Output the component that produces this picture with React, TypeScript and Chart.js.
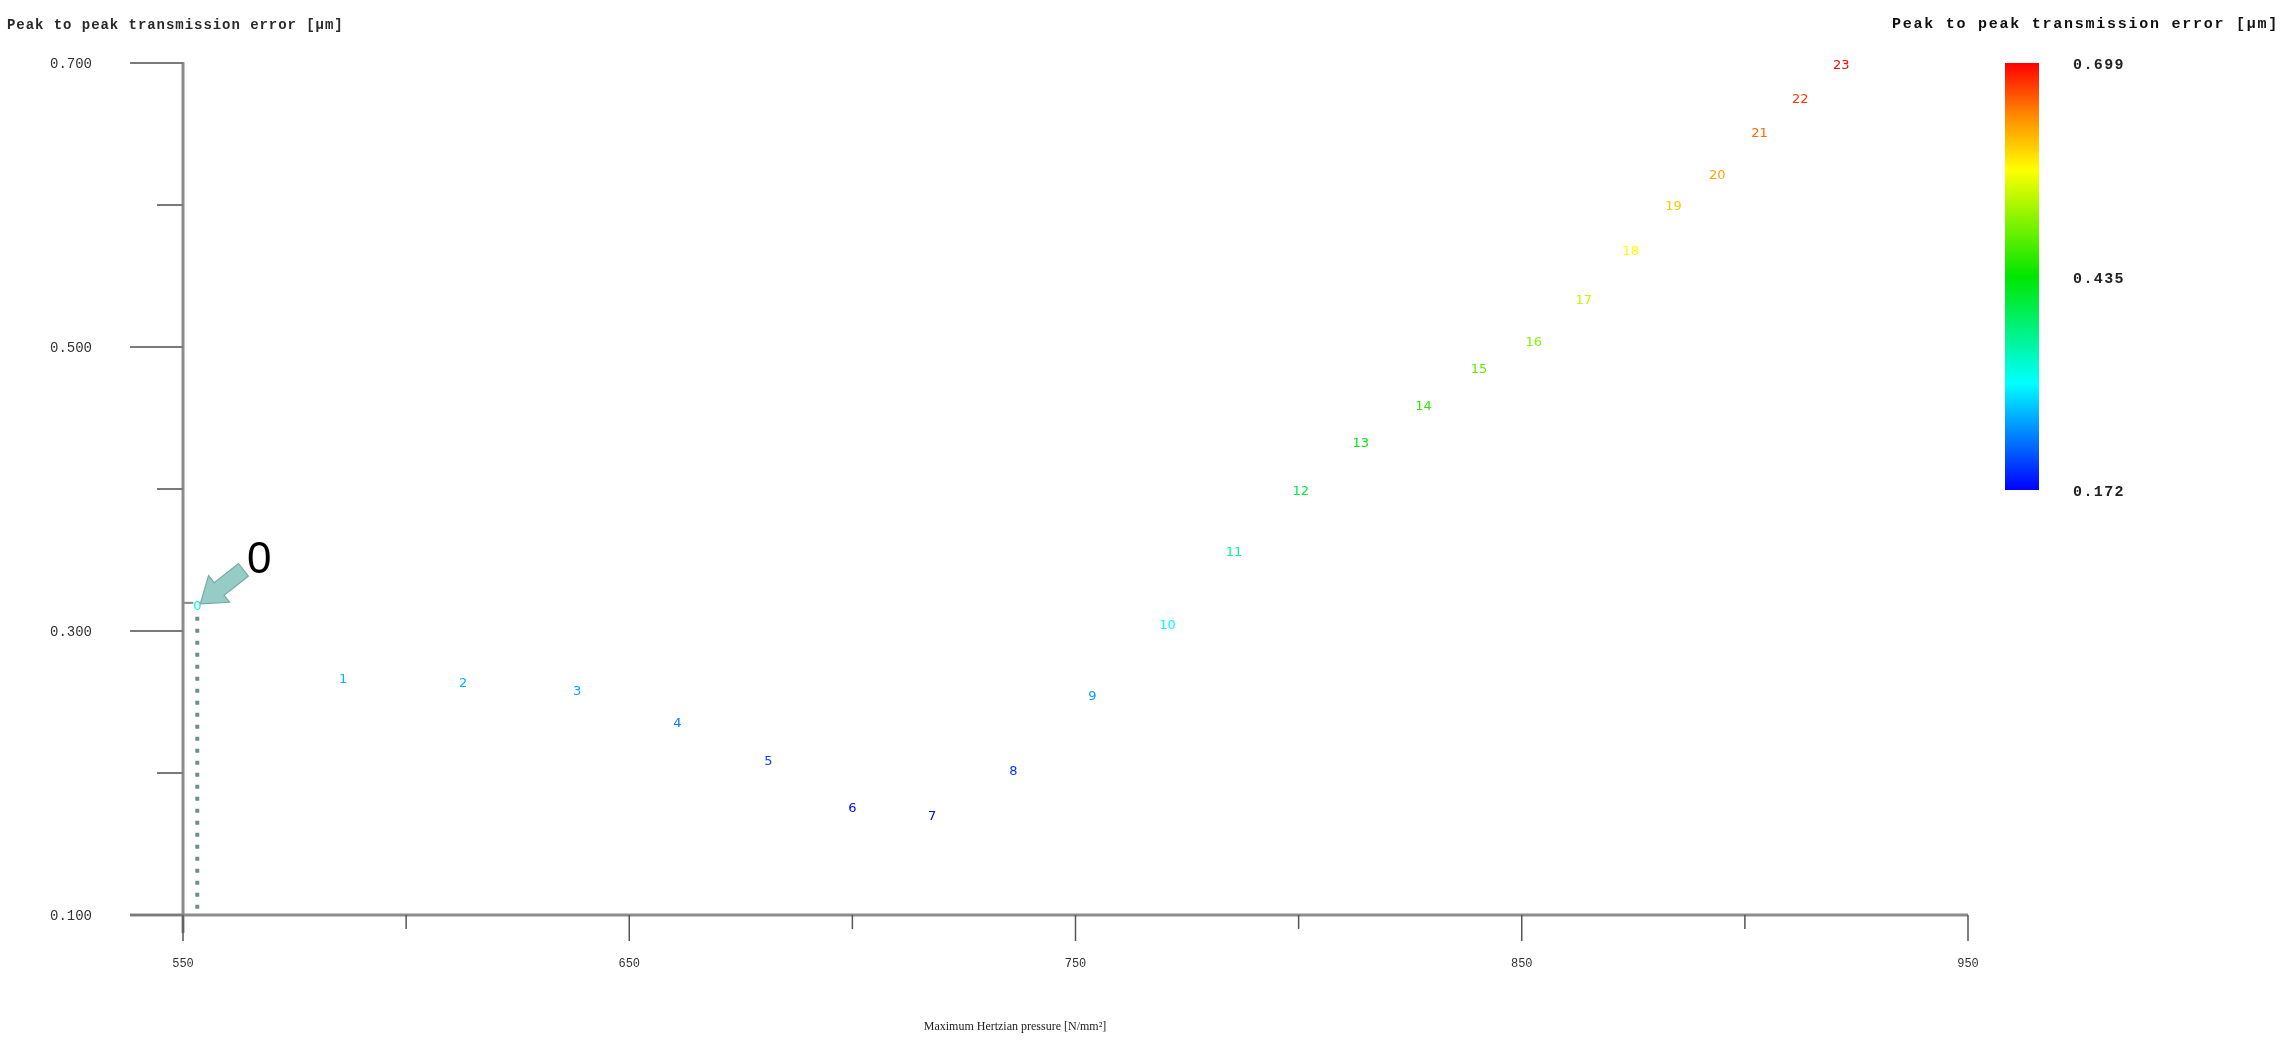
import React, { useEffect, useRef } from "react";
import { Chart, registerables } from "chart.js";

Chart.register(...registerables);

// ---- data ----
const pointIds = ["0", "1", "2", "3", "4", "5", "6", "7", "8", "9", "10", "11", "12", "13", "14", "15", "16", "17", "18", "19", "20", "21", "22", "23"];
const pressure = [553.2, 585.9, 612.8, 638.3, 660.8, 681.2, 700.0, 717.9, 736.1, 753.8, 770.6, 785.5, 800.5, 813.9, 828.0, 840.4, 852.7, 863.9, 874.4, 884.0, 893.8, 903.3, 912.4, 921.6];
const pte = [0.317, 0.266, 0.263, 0.257, 0.235, 0.208, 0.175, 0.169, 0.201, 0.254, 0.304, 0.355, 0.398, 0.432, 0.458, 0.484, 0.503, 0.533, 0.567, 0.599, 0.621, 0.650, 0.674, 0.698];
const xMajorTicks = [550, 650, 750, 850, 950];
const xMinorTicks = [600, 700, 800, 900];
const yMajorTicks = [0.1, 0.3, 0.5, 0.7];
const yMinorTicks = [0.2, 0.4, 0.6];
const colorbarTicks = [0.699, 0.435, 0.172];
const colorMin = 0.172;
const colorMax = 0.699;
const yTitle = "Peak to peak transmission error [µm]";
const colorbarTitle = "Peak to peak transmission error [µm]";
const xTitle = "Maximum Hertzian pressure [N/mm²]";
const calloutText = "0";

const stops: [number, [number, number, number]][] = [
  [0, [0, 0, 255]],
  [0.25, [0, 255, 255]],
  [0.5, [0, 230, 0]],
  [0.75, [255, 255, 0]],
  [0.875, [255, 140, 0]],
  [1, [255, 0, 0]],
];

function colorFor(v: number): string {
  let t = (v - colorMin) / (colorMax - colorMin);
  t = Math.max(0, Math.min(1, t));
  for (let i = 0; i < stops.length - 1; i++) {
    const [a, ca] = stops[i];
    const [b, cb] = stops[i + 1];
    if (t >= a && t <= b) {
      const f = (t - a) / (b - a);
      const c = ca.map((x, k) => Math.round(x + (cb[k] - x) * f));
      return `rgb(${c[0]},${c[1]},${c[2]})`;
    }
  }
  return "rgb(255,0,0)";
}

const decorPlugin = {
  id: "decor",
  beforeDraw(chart: any) {
    const ctx = chart.ctx;
    ctx.save();
    ctx.fillStyle = "#ffffff";
    ctx.fillRect(0, 0, chart.width, chart.height);
    ctx.restore();
  },
  afterDraw(chart: any) {
    const ctx: CanvasRenderingContext2D = chart.ctx;
    const xs = chart.scales.x;
    const ys = chart.scales.y;
    const ca = chart.chartArea;
    ctx.save();

    // point 0 guide lines
    const meta = chart.getDatasetMeta(0);
    const p0 = meta.data[0];
    ctx.strokeStyle = "#6f8f8d";
    ctx.lineWidth = 4;
    ctx.setLineDash([4, 8]);
    ctx.beginPath();
    ctx.moveTo(p0.x, p0.y + 10);
    ctx.lineTo(p0.x, ca.bottom - 2);
    ctx.stroke();
    ctx.setLineDash([]);
    ctx.strokeStyle = "#8a8a8a";
    ctx.lineWidth = 2;
    ctx.beginPath();
    ctx.moveTo(ca.left, p0.y - 4);
    ctx.lineTo(p0.x - 4, p0.y - 4);
    ctx.stroke();

    // axes
    ctx.strokeStyle = "#8c8c8c";
    ctx.lineWidth = 3;
    ctx.beginPath();
    ctx.moveTo(ca.left, ys.getPixelForValue(0.7) - 1);
    ctx.lineTo(ca.left, ca.bottom + 18);
    ctx.stroke();
    ctx.beginPath();
    ctx.moveTo(ca.left - 53, ca.bottom);
    ctx.lineTo(ca.right, ca.bottom);
    ctx.stroke();

    // y ticks
    ctx.strokeStyle = "#7a7a7a";
    ctx.lineWidth = 2;
    for (const v of yMajorTicks) {
      const y = ys.getPixelForValue(v);
      ctx.beginPath();
      ctx.moveTo(ca.left - 53, y);
      ctx.lineTo(ca.left, y);
      ctx.stroke();
    }
    for (const v of yMinorTicks) {
      const y = ys.getPixelForValue(v);
      ctx.beginPath();
      ctx.moveTo(ca.left - 26, y);
      ctx.lineTo(ca.left, y);
      ctx.stroke();
    }
    ctx.fillStyle = "#333333";
    ctx.font = "14px 'Liberation Mono'";
    ctx.textAlign = "right";
    ctx.textBaseline = "middle";
    for (const v of yMajorTicks) {
      const y = ys.getPixelForValue(v);
      ctx.fillText(v.toFixed(3), ca.left - 91, y + 1);
    }

    // x ticks
    ctx.strokeStyle = "#555555";
    ctx.lineWidth = 1.5;
    for (const v of xMajorTicks) {
      const x = xs.getPixelForValue(v);
      ctx.beginPath();
      ctx.moveTo(x, ca.bottom);
      ctx.lineTo(x, ca.bottom + 26);
      ctx.stroke();
    }
    for (const v of xMinorTicks) {
      const x = xs.getPixelForValue(v);
      ctx.beginPath();
      ctx.moveTo(x, ca.bottom);
      ctx.lineTo(x, ca.bottom + 14);
      ctx.stroke();
    }
    ctx.fillStyle = "#333333";
    ctx.font = "12px 'Liberation Mono'";
    ctx.textAlign = "center";
    for (const v of xMajorTicks) {
      const x = xs.getPixelForValue(v);
      ctx.fillText(String(v), x, ca.bottom + 49);
    }

    // titles
    ctx.fillStyle = "#222222";
    ctx.font = "12px 'Liberation Serif'";
    ctx.textAlign = "center";
    ctx.fillText(xTitle, 1015, 1027);

    ctx.textAlign = "left";
    ctx.font = "bold 14px 'Liberation Mono'";
    (ctx as any).letterSpacing = "0.95px";
    ctx.fillStyle = "#2a2a2a";
    ctx.fillText(yTitle, 7, 25);

    ctx.font = "bold 15px 'Liberation Mono'";
    (ctx as any).letterSpacing = "1.75px";
    ctx.fillStyle = "#111111";
    ctx.fillText(colorbarTitle, 1892, 24);

    // colorbar
    const barTop = 63;
    const barBottom = 490;
    const barLeft = 2005;
    const barW = 34;
    const grad = ctx.createLinearGradient(0, barBottom, 0, barTop);
    for (const [t, c] of stops) grad.addColorStop(t, `rgb(${c[0]},${c[1]},${c[2]})`);
    ctx.fillStyle = grad;
    ctx.fillRect(barLeft, barTop, barW, barBottom - barTop);
    ctx.font = "bold 15px 'Liberation Mono'";
    (ctx as any).letterSpacing = "1.4px";
    ctx.fillStyle = "#222222";
    ctx.textBaseline = "middle";
    for (const v of colorbarTicks) {
      const y = barBottom - ((v - colorMin) / (colorMax - colorMin)) * (barBottom - barTop);
      ctx.fillText(v.toFixed(3), 2073, y + 2);
    }
    (ctx as any).letterSpacing = "0px";

    // point labels
    ctx.font = "13px 'DejaVu Sans'";
    ctx.textAlign = "center";
    ctx.textBaseline = "middle";
    meta.data.forEach((el: any, i: number) => {
      ctx.fillStyle = colorFor(pte[i]);
      ctx.fillText(pointIds[i], el.x, el.y);
    });

    // callout arrow
    const tipX = p0.x + 3;
    const tipY = p0.y - 3;
    const ang = Math.atan2(-30, 38);
    const dx = Math.cos(ang);
    const dy = Math.sin(ang);
    const nx = -dy;
    const ny = dx;
    const poly: [number, number][] = [
      [0, 0],
      [24, 17],
      [24, 8],
      [55, 8],
      [55, -8],
      [24, -8],
      [24, -17],
    ];
    ctx.beginPath();
    poly.forEach(([a, b], k) => {
      const px = tipX + dx * a + nx * b;
      const py = tipY + dy * a + ny * b;
      if (k === 0) ctx.moveTo(px, py);
      else ctx.lineTo(px, py);
    });
    ctx.closePath();
    ctx.fillStyle = "rgba(130,196,188,0.85)";
    ctx.fill();
    ctx.strokeStyle = "#78aaa4";
    ctx.lineWidth = 1.2;
    ctx.stroke();

    ctx.fillStyle = "#000000";
    ctx.font = "44px 'Liberation Sans'";
    ctx.textAlign = "center";
    ctx.textBaseline = "middle";
    ctx.fillText(calloutText, p0.x + 62, p0.y - 46);

    ctx.restore();
  },
};

export default function App() {
  const ref = useRef<HTMLCanvasElement | null>(null);
  useEffect(() => {
    if (!ref.current) return;
    const chart = new Chart(ref.current, {
      type: "scatter",
      data: {
        datasets: [
          {
            data: pressure.map((x, i) => ({ x, y: pte[i] })),
            pointRadius: 0,
            pointHoverRadius: 0,
            showLine: false,
          },
        ],
      },
      options: {
        responsive: false,
        animation: false,
        layout: { padding: { left: 0, top: 63, right: 315, bottom: 0 } },
        plugins: { legend: { display: false }, tooltip: { enabled: false } },
        events: [],
        scales: {
          x: {
            type: "linear",
            min: 550,
            max: 950,
            grid: { display: false },
            border: { display: false },
            ticks: { display: false },
            afterFit: (s: any) => {
              s.height = 141;
            },
          },
          y: {
            type: "linear",
            min: 0.1,
            max: 0.7,
            grid: { display: false },
            border: { display: false },
            ticks: { display: false },
            afterFit: (s: any) => {
              s.width = 183;
            },
          },
        },
      } as any,
      plugins: [decorPlugin],
    });
    return () => chart.destroy();
  }, []);
  return (
    <div style={{ position: "absolute", left: 0, top: 0, width: 2283, height: 1056, background: "#fff" }}>
      <canvas ref={ref} width={2283} height={1056} style={{ display: "block", width: 2283, height: 1056 }} />
    </div>
  );
}
